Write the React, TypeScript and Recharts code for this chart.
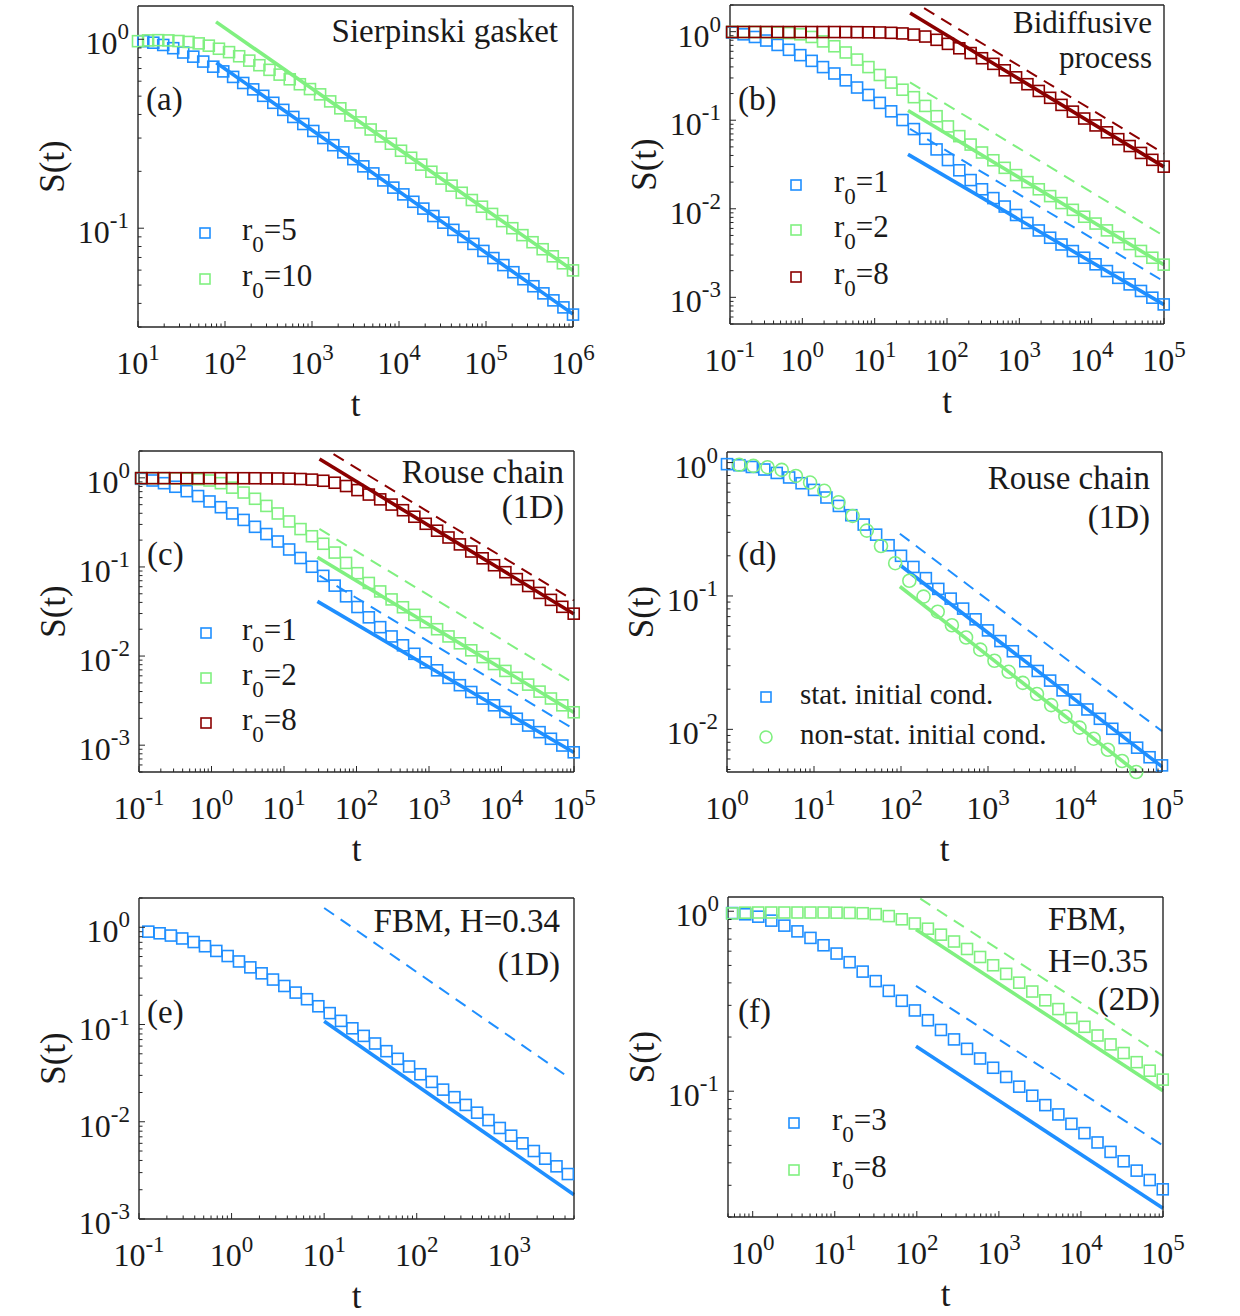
import React from 'react';
import { ComposedChart, Scatter, Line, XAxis, YAxis } from 'recharts';

const BLUE = '#1f8fff';
const GREEN = '#80f080';
const RED = '#8b0000';
const AX = '#262626';
const INK = '#1a1a1a';
const FONT = "'Liberation Serif', 'Times New Roman', Times, serif";

// ---------------- (a) Sierpinski gasket ----------------
const tA5 = [11.5, 15.0, 19.5, 25.4, 33.1, 43.2, 56.2, 73.3, 95.5, 124, 162, 211, 275, 359, 468, 610, 794, 1035, 1349, 1758, 2291, 2985, 3890, 5070, 6607, 8610, 11220, 14620, 19050, 24830, 32360, 42170, 54950, 71610, 93330, 121600, 158500, 206500, 269200, 350800, 457100, 595700, 776200, 1000000];
const sA5 = [0.977, 0.959, 0.933, 0.897, 0.851, 0.809, 0.762, 0.716, 0.676, 0.632, 0.587, 0.543, 0.502, 0.461, 0.423, 0.388, 0.356, 0.327, 0.3, 0.275, 0.252, 0.232, 0.2125, 0.195, 0.179, 0.164, 0.151, 0.138, 0.127, 0.116, 0.107, 0.098, 0.09, 0.0826, 0.0758, 0.0695, 0.0638, 0.0585, 0.0537, 0.0493, 0.0452, 0.0415, 0.0381, 0.0349];
const tA10 = [10, 13.07, 17.09, 22.33, 29.18, 38.14, 49.85, 65.16, 85.17, 111.3, 145.5, 190.1, 248.5, 324.8, 424.6, 554.9, 725.3, 947.8, 1239, 1619, 2116, 2766, 3615, 4724, 6175, 8072, 10550, 13790, 18020, 23560, 30790, 40250, 52600, 68750, 89850, 117400, 153500, 200600, 262200, 342700, 447900, 585400, 765200, 1000000];
const sA10 = [0.977, 0.986, 0.989, 0.986, 0.979, 0.968, 0.951, 0.925, 0.891, 0.855, 0.813, 0.771, 0.729, 0.689, 0.65, 0.614, 0.578, 0.545, 0.511, 0.469, 0.431, 0.395, 0.363, 0.333, 0.306, 0.28, 0.257, 0.236, 0.217, 0.199, 0.183, 0.168, 0.154, 0.141, 0.13, 0.119, 0.109, 0.1, 0.0919, 0.0843, 0.0774, 0.071, 0.0652, 0.0598];
const fitA5T = [79.4, 1000000];
const fitA5S = [0.752, 0.0351];
const fitA10T = [78.9, 1000000];
const fitA10S = [1.236, 0.0598];

// ---------------- (b) Bidiffusive process / (c) Rouse chain 1D ----------------
const tB = [0.107, 0.154, 0.221, 0.317, 0.455, 0.653, 0.938, 1.346, 1.932, 2.773, 3.981, 5.715, 8.204, 11.78, 16.9, 24.27, 34.83, 50.0, 71.78, 103.0, 147.9, 212.3, 304.8, 437.5, 628.1, 901.6, 1294, 1858, 2667, 3828, 5495, 7889, 11320, 16260, 23330, 33500, 48080, 69020, 99080];
const sB1 = [0.975, 0.933, 0.871, 0.794, 0.708, 0.624, 0.543, 0.468, 0.398, 0.337, 0.282, 0.234, 0.193, 0.157, 0.126, 0.1005, 0.0794, 0.0617, 0.0468, 0.0355, 0.0272, 0.0211, 0.0166, 0.0132, 0.0106, 0.00851, 0.00692, 0.00569, 0.00471, 0.00395, 0.00333, 0.0028, 0.00236, 0.00198, 0.00166, 0.0014, 0.00118, 0.000991, 0.000832];
const sB2 = [0.993, 0.993, 0.991, 0.986, 0.977, 0.964, 0.933, 0.871, 0.776, 0.684, 0.582, 0.484, 0.398, 0.324, 0.266, 0.221, 0.182, 0.145, 0.111, 0.0851, 0.0661, 0.0531, 0.0432, 0.0353, 0.029, 0.024, 0.02, 0.0166, 0.0139, 0.0116, 0.00973, 0.00813, 0.00681, 0.0057, 0.00478, 0.00399, 0.00334, 0.0028, 0.00234];
const sB8 = [0.992, 0.991, 0.992, 0.991, 0.991, 0.99, 0.991, 0.99, 0.99, 0.99, 0.989, 0.986, 0.984, 0.979, 0.97, 0.955, 0.927, 0.881, 0.809, 0.728, 0.649, 0.573, 0.501, 0.433, 0.366, 0.305, 0.255, 0.214, 0.179, 0.149, 0.125, 0.1045, 0.0873, 0.073, 0.0611, 0.0511, 0.0427, 0.0357, 0.0299];
const fitB1T = [28.9, 100000];
const fitB1S = [0.0411, 0.000828];
const fitB1dT = [30.8, 100000];
const fitB1dS = [0.08, 0.00151];
const fitB2T = [28.9, 100000];
const fitB2S = [0.1285, 0.00233];
const fitB2dT = [30.8, 100000];
const fitB2dS = [0.267, 0.00493];
const fitB8T = [30.9, 100000];
const fitB8S = [1.624, 0.0297];
const fitB8dT = [48.2, 100000];
const fitB8dS = [1.84, 0.042];

// ---------------- (d) Rouse chain, initial conditions ----------------
const tD1 = [1.0, 1.389, 1.931, 2.683, 3.728, 5.179, 7.197, 10.0, 13.89, 19.31, 26.83, 37.28, 51.79, 71.97, 100, 138.9, 193.1, 268.3, 372.8, 517.9, 719.7, 1000, 1389, 1931, 2683, 3728, 5179, 7197, 10000, 13890, 19310, 26830, 37280, 51790, 71970, 100000];
const sD1 = [0.973, 0.955, 0.927, 0.887, 0.836, 0.773, 0.7, 0.624, 0.547, 0.473, 0.403, 0.343, 0.288, 0.24, 0.2, 0.165, 0.136, 0.113, 0.0955, 0.0804, 0.0668, 0.0552, 0.0459, 0.0385, 0.0324, 0.0274, 0.0232, 0.0196, 0.0167, 0.0141, 0.012, 0.0101, 0.00861, 0.00729, 0.00618, 0.00537];
const tD2 = [1.38, 2.009, 2.924, 4.256, 6.194, 9.016, 13.12, 19.1, 27.8, 40.46, 58.88, 85.7, 124.7, 181.6, 264.2, 384.6, 559.8, 814.7, 1186, 1726, 2512, 3656, 5321, 7745, 11270, 16410, 23880, 34750, 50580];
const sD2 = [0.962, 0.944, 0.923, 0.881, 0.794, 0.708, 0.614, 0.504, 0.398, 0.309, 0.237, 0.176, 0.13, 0.0989, 0.0762, 0.0603, 0.0488, 0.0396, 0.0327, 0.027, 0.0223, 0.0184, 0.0152, 0.0125, 0.0103, 0.00851, 0.00703, 0.00579, 0.00479];
const fitD1T = [97.1, 100000];
const fitD1S = [0.1706, 0.00525];
const fitD1dT = [97.1, 100000];
const fitD1dS = [0.293, 0.0097];
const fitD2T = [97.1, 50600];
const fitD2S = [0.1178, 0.00479];

// ---------------- (e) FBM H=0.34 (1D) ----------------
const tE = [0.126, 0.167, 0.221, 0.293, 0.389, 0.516, 0.684, 0.907, 1.202, 1.594, 2.113, 2.802, 3.715, 4.926, 6.531, 8.66, 11.48, 15.22, 20.18, 26.76, 35.48, 47.04, 62.37, 82.7, 109.6, 145.4, 192.8, 255.6, 338.8, 449.3, 595.7, 789.9, 1047, 1388, 1841, 2441, 3236, 4291];
const sE = [0.902, 0.867, 0.822, 0.767, 0.705, 0.638, 0.571, 0.506, 0.445, 0.387, 0.336, 0.29, 0.249, 0.213, 0.182, 0.154, 0.131, 0.109, 0.0914, 0.0764, 0.0638, 0.0532, 0.0444, 0.037, 0.0308, 0.0257, 0.0214, 0.0179, 0.0149, 0.0124, 0.0104, 0.00863, 0.00719, 0.006, 0.005, 0.00417, 0.00348, 0.0029];
const fitET = [10, 5000];
const fitES = [0.108, 0.00178];
const fitEdT = [10, 4200];
const fitEdS = [1.58, 0.0294];

// ---------------- (f) FBM H=0.35 (2D) ----------------
const tF = [0.562, 0.811, 1.169, 1.687, 2.432, 3.508, 5.058, 7.295, 10.52, 15.17, 21.88, 31.55, 45.5, 65.61, 94.62, 136.5, 196.8, 283.8, 409.3, 590.2, 851.1, 1227, 1770, 2553, 3681, 5309, 7656, 11040, 15920, 22960, 33110, 47750, 68870, 99310];
const sF3 = [0.977, 0.962, 0.933, 0.887, 0.832, 0.773, 0.711, 0.647, 0.582, 0.521, 0.462, 0.409, 0.361, 0.318, 0.281, 0.248, 0.219, 0.194, 0.172, 0.152, 0.135, 0.12, 0.106, 0.0944, 0.0837, 0.0743, 0.0659, 0.0585, 0.0519, 0.046, 0.0408, 0.0362, 0.0321, 0.0285];
const sF8 = [0.973, 0.982, 0.984, 0.984, 0.984, 0.984, 0.984, 0.984, 0.982, 0.979, 0.975, 0.964, 0.94, 0.902, 0.855, 0.8, 0.741, 0.679, 0.617, 0.557, 0.501, 0.449, 0.401, 0.358, 0.32, 0.286, 0.255, 0.228, 0.204, 0.182, 0.163, 0.145, 0.13, 0.116];
const fitF3T = [97.7, 100000];
const fitF3S = [0.178, 0.0224];
const fitF3dT = [97.7, 100000];
const fitF3dS = [0.385, 0.0499];
const fitF8T = [97.7, 100000];
const fitF8S = [0.792, 0.1005];
const fitF8dT = [110, 100000];
const fitF8dS = [1.175, 0.157];

// ---------------- axis tick labels (decades) ----------------
const xMajA = [1e1, 1e2, 1e3, 1e4, 1e5, 1e6];
const yMajA = [0.1, 1];
const xMajB = [0.1, 1, 10, 100, 1e3, 1e4, 1e5];
const yMajB = [0.001, 0.01, 0.1, 1];
const xMajD = [1, 10, 100, 1e3, 1e4, 1e5];
const yMajD = [0.01, 0.1, 1];
const xMajE = [0.1, 1, 10, 100, 1000];
const yMajE = [0.001, 0.01, 0.1, 1];
const xMajF = [1, 10, 100, 1e3, 1e4, 1e5];
const yMajF = [0.1, 1];

// ---------------- helpers ----------------
type Pt = { t: number; s: number };
const zip = (t: number[], s: number[]): Pt[] => t.map((v, i) => ({ t: v, s: s[i] }));

function logTicks(lo: number, hi: number): number[] {
  const out: number[] = [];
  for (let e = Math.floor(Math.log10(lo)) - 1; e <= Math.ceil(Math.log10(hi)); e++) {
    for (let m = 1; m <= 9; m++) {
      const v = parseFloat((m * Math.pow(10, e)).toPrecision(6));
      if (v >= lo * 0.9999 && v <= hi * 1.0001) out.push(v);
    }
  }
  return out;
}
const inList = (v: number, list: number[]) => list.some((m) => Math.abs(m - v) / m < 1e-6);

type Side = 'bottom' | 'top' | 'left' | 'right';
const makeTick = (side: Side, majors: number[]) => (p: any) => {
  const { x, y, payload } = p;
  const v = payload.value as number;
  const maj = inList(v, majors);
  const L = maj ? 6 : 3.5;
  let x2 = x;
  let y2 = y;
  if (side === 'bottom') y2 = y - L;
  if (side === 'top') y2 = y + L;
  if (side === 'left') x2 = x + L;
  if (side === 'right') x2 = x - L;
  const exp = Math.round(Math.log10(v));
  let label: React.ReactNode = null;
  if (maj && side === 'bottom') {
    label = (
      <text x={x} y={y + 47} textAnchor="middle" fontFamily={FONT} fontSize={32} fill={INK}>
        10<tspan dy={-14} fontSize={23}>{exp}</tspan>
      </text>
    );
  } else if (maj && side === 'left') {
    label = (
      <text x={x - 9} y={y + 15} textAnchor="end" fontFamily={FONT} fontSize={32} fill={INK}>
        10<tspan dy={-15} fontSize={23}>{exp}</tspan>
      </text>
    );
  }
  return (
    <g>
      <line x1={x} y1={y} x2={x2} y2={y2} stroke={AX} strokeWidth={1} />
      {label}
    </g>
  );
};

const markerShape = (color: string, shape: 'square' | 'circle') => (p: any) =>
  shape === 'square' ? (
    <rect x={p.cx - 5.5} y={p.cy - 5.5} width={11} height={11} fill="none" stroke={color} strokeWidth={1.6} />
  ) : (
    <circle cx={p.cx} cy={p.cy} r={6.5} fill="none" stroke={color} strokeWidth={1.6} />
  );

interface SeriesDef { name: string; t: number[]; s: number[]; color: string; shape: 'square' | 'circle' }
interface FitDef { t: number[]; s: number[]; color: string; dashed?: boolean }
interface LegendDef { mx: number; tx: number; rows: number[]; fontSize: number; items: { color: string; shape: 'square' | 'circle'; label: React.ReactNode }[] }
interface PanelDef {
  left: number;
  top: number;
  box: { x: number; y: number; w: number; h: number };
  xDomain: [number, number];
  yDomain: [number, number];
  xMajor: number[];
  yMajor: number[];
  series: SeriesDef[];
  fits: FitDef[];
  legend?: LegendDef;
  notes: React.ReactNode;
}

const W = 620;
const H = 436;
const axisLine = { stroke: AX, strokeWidth: 1.4 };

const R0 = (v: string) => (
  <>
    r<tspan dy={12} fontSize={23}>0</tspan>
    <tspan dy={-12}>={v}</tspan>
  </>
);

const Note = ({ x, y, children, anchor = 'start', size = 33 }: any) => (
  <text x={x} y={y} textAnchor={anchor} fontFamily={FONT} fontSize={size} fill={INK}>
    {children}
  </text>
);

function Panel(d: PanelDef) {
  const { box } = d;
  const xt = logTicks(d.xDomain[0], d.xDomain[1]);
  const yt = logTicks(d.yDomain[0], d.yDomain[1]);
  const common = { type: 'number' as const, scale: 'log' as const, interval: 0 as const, tickLine: false, axisLine };
  return (
    <div style={{ position: 'absolute', left: d.left, top: d.top, width: W, height: H }}>
      <ComposedChart
        width={W}
        height={H}
        margin={{ top: box.y - 1, left: box.x - 1, right: W - box.x - box.w - 1, bottom: H - box.y - box.h - 1 }}
      >
        <XAxis {...common} xAxisId="b" orientation="bottom" dataKey="t" domain={d.xDomain} ticks={xt} height={1} tickSize={0} tickMargin={0} tick={makeTick('bottom', d.xMajor)} />
        <XAxis {...common} xAxisId="top" orientation="top" domain={d.xDomain} ticks={xt} height={1} tickSize={0} tickMargin={0} tick={makeTick('top', d.xMajor)} />
        <YAxis {...common} yAxisId="l" orientation="left" dataKey="s" domain={d.yDomain} ticks={yt} width={1} tickSize={0} tickMargin={0} tick={makeTick('left', d.yMajor)} />
        <YAxis {...common} yAxisId="r" orientation="right" domain={d.yDomain} ticks={yt} width={1} tickSize={0} tickMargin={0} tick={makeTick('right', d.yMajor)} />
        {d.series.map((s) => (
          <Scatter
            key={s.name}
            name={s.name}
            xAxisId="b"
            yAxisId="l"
            data={zip(s.t, s.s)}
            shape={markerShape(s.color, s.shape)}
            isAnimationActive={false}
          />
        ))}
        {d.fits.map((f, i) => (
          <Line
            key={'fit' + i}
            xAxisId="b"
            yAxisId="l"
            data={zip(f.t, f.s)}
            dataKey="s"
            type="linear"
            stroke={f.color}
            strokeWidth={f.dashed ? 2 : 3.6}
            strokeDasharray={f.dashed ? '12 8' : undefined}
            dot={false}
            activeDot={false}
            isAnimationActive={false}
          />
        ))}
      </ComposedChart>
      <svg width={W} height={H} style={{ position: 'absolute', left: 0, top: 0, pointerEvents: 'none' }}>
        <text
          transform={`translate(${box.x - 86},${box.y + box.h / 2}) rotate(-90)`}
          y={12}
          textAnchor="middle"
          fontFamily={FONT}
          fontSize={35}
          fill={INK}
        >
          S(t)
        </text>
        <text x={box.x + box.w / 2} y={box.y + box.h + 89} textAnchor="middle" fontFamily={FONT} fontSize={35} fill={INK}>
          t
        </text>
        {d.legend &&
          d.legend.items.map((it, i) => {
            const cy = d.legend!.rows[i];
            const mx = d.legend!.mx;
            return (
              <g key={i}>
                {it.shape === 'square' ? (
                  <rect x={mx - 5} y={cy - 5} width={10} height={10} fill="none" stroke={it.color} strokeWidth={1.6} />
                ) : (
                  <circle cx={mx} cy={cy} r={6} fill="none" stroke={it.color} strokeWidth={1.6} />
                )}
                <text x={d.legend!.tx} y={cy + 7} fontFamily={FONT} fontSize={d.legend!.fontSize} fill={INK}>
                  {it.label}
                </text>
              </g>
            );
          })}
        {d.notes}
      </svg>
    </div>
  );
}

const seriesB: SeriesDef[] = [
  { name: 'r0=1', t: tB, s: sB1, color: BLUE, shape: 'square' },
  { name: 'r0=2', t: tB, s: sB2, color: GREEN, shape: 'square' },
  { name: 'r0=8', t: tB, s: sB8, color: RED, shape: 'square' },
];
const fitsB: FitDef[] = [
  { t: fitB1T, s: fitB1S, color: BLUE },
  { t: fitB1dT, s: fitB1dS, color: BLUE, dashed: true },
  { t: fitB2T, s: fitB2S, color: GREEN },
  { t: fitB2dT, s: fitB2dS, color: GREEN, dashed: true },
  { t: fitB8T, s: fitB8S, color: RED },
  { t: fitB8dT, s: fitB8dS, color: RED, dashed: true },
];

export default function App() {
  return (
    <div style={{ position: 'absolute', left: 0, top: 0, width: 1240, height: 1316, background: '#fff', overflow: 'hidden' }}>
      <Panel
        left={0}
        top={0}
        box={{ x: 138, y: 6, w: 435, h: 321 }}
        xDomain={[10, 1e6]}
        yDomain={[0.03, 1.5]}
        xMajor={xMajA}
        yMajor={yMajA}
        series={[
          { name: 'r0=5', t: tA5, s: sA5, color: BLUE, shape: 'square' },
          { name: 'r0=10', t: tA10, s: sA10, color: GREEN, shape: 'square' },
        ]}
        fits={[
          { t: fitA5T, s: fitA5S, color: BLUE },
          { t: fitA10T, s: fitA10S, color: GREEN },
        ]}
        legend={{
          mx: 205,
          tx: 242,
          rows: [233, 279],
          fontSize: 31,
          items: [
            { color: BLUE, shape: 'square', label: R0('5') },
            { color: GREEN, shape: 'square', label: R0('10') },
          ],
        }}
        notes={
          <>
            <Note x={558} y={42} anchor="end">Sierpinski gasket</Note>
            <Note x={146} y={110}>(a)</Note>
          </>
        }
      />
      <Panel
        left={620}
        top={0}
        box={{ x: 110, y: 5, w: 434, h: 319 }}
        xDomain={[0.1, 1e5]}
        yDomain={[5e-4, 2]}
        xMajor={xMajB}
        yMajor={yMajB}
        series={seriesB}
        fits={fitsB}
        legend={{
          mx: 176,
          tx: 214,
          rows: [185, 230, 277],
          fontSize: 31,
          items: [
            { color: BLUE, shape: 'square', label: R0('1') },
            { color: GREEN, shape: 'square', label: R0('2') },
            { color: RED, shape: 'square', label: R0('8') },
          ],
        }}
        notes={
          <>
            <Note x={532} y={33} anchor="end" size={31}>Bidiffusive</Note>
            <Note x={532} y={68} anchor="end" size={31}>process</Note>
            <Note x={118} y={110}>(b)</Note>
          </>
        }
      />
      <Panel
        left={0}
        top={440}
        box={{ x: 139, y: 11, w: 435, h: 321 }}
        xDomain={[0.1, 1e5]}
        yDomain={[5e-4, 2]}
        xMajor={xMajB}
        yMajor={yMajB}
        series={seriesB}
        fits={fitsB}
        legend={{
          mx: 206,
          tx: 242,
          rows: [193, 238, 283],
          fontSize: 31,
          items: [
            { color: BLUE, shape: 'square', label: R0('1') },
            { color: GREEN, shape: 'square', label: R0('2') },
            { color: RED, shape: 'square', label: R0('8') },
          ],
        }}
        notes={
          <>
            <Note x={564} y={43} anchor="end">Rouse chain</Note>
            <Note x={564} y={78} anchor="end">(1D)</Note>
            <Note x={147} y={125}>(c)</Note>
          </>
        }
      />
      <Panel
        left={620}
        top={440}
        box={{ x: 107, y: 12, w: 435, h: 320 }}
        xDomain={[1, 1e5]}
        yDomain={[0.005, 1.2]}
        xMajor={xMajD}
        yMajor={yMajD}
        series={[
          { name: 'stat. initial cond.', t: tD1, s: sD1, color: BLUE, shape: 'square' },
          { name: 'non-stat. initial cond.', t: tD2, s: sD2, color: GREEN, shape: 'circle' },
        ]}
        fits={[
          { t: fitD1T, s: fitD1S, color: BLUE },
          { t: fitD1dT, s: fitD1dS, color: BLUE, dashed: true },
          { t: fitD2T, s: fitD2S, color: GREEN },
        ]}
        legend={{
          mx: 146,
          tx: 180,
          rows: [257, 297],
          fontSize: 29,
          items: [
            { color: BLUE, shape: 'square', label: 'stat. initial cond.' },
            { color: GREEN, shape: 'circle', label: 'non-stat. initial cond.' },
          ],
        }}
        notes={
          <>
            <Note x={530} y={49} anchor="end">Rouse chain</Note>
            <Note x={530} y={88} anchor="end">(1D)</Note>
            <Note x={118} y={125}>(d)</Note>
          </>
        }
      />
      <Panel
        left={0}
        top={880}
        box={{ x: 139, y: 18, w: 435, h: 321 }}
        xDomain={[0.1, 5000]}
        yDomain={[0.001, 2]}
        xMajor={xMajE}
        yMajor={yMajE}
        series={[{ name: 'FBM H=0.34', t: tE, s: sE, color: BLUE, shape: 'square' }]}
        fits={[
          { t: fitET, s: fitES, color: BLUE },
          { t: fitEdT, s: fitEdS, color: BLUE, dashed: true },
        ]}
        notes={
          <>
            <Note x={560} y={52} anchor="end">FBM, H=0.34</Note>
            <Note x={560} y={95} anchor="end">(1D)</Note>
            <Note x={147} y={143}>(e)</Note>
          </>
        }
      />
      <Panel
        left={620}
        top={880}
        box={{ x: 108, y: 17, w: 435, h: 320 }}
        xDomain={[0.5, 1e5]}
        yDomain={[0.02, 1.2]}
        xMajor={xMajF}
        yMajor={yMajF}
        series={[
          { name: 'r0=3', t: tF, s: sF3, color: BLUE, shape: 'square' },
          { name: 'r0=8', t: tF, s: sF8, color: GREEN, shape: 'square' },
        ]}
        fits={[
          { t: fitF3T, s: fitF3S, color: BLUE },
          { t: fitF3dT, s: fitF3dS, color: BLUE, dashed: true },
          { t: fitF8T, s: fitF8S, color: GREEN },
          { t: fitF8dT, s: fitF8dS, color: GREEN, dashed: true },
        ]}
        legend={{
          mx: 174,
          tx: 212,
          rows: [243, 290],
          fontSize: 31,
          items: [
            { color: BLUE, shape: 'square', label: R0('3') },
            { color: GREEN, shape: 'square', label: R0('8') },
          ],
        }}
        notes={
          <>
            <Note x={428} y={50}>FBM,</Note>
            <Note x={428} y={92}>H=0.35</Note>
            <Note x={540} y={130} anchor="end">(2D)</Note>
            <Note x={118} y={142}>(f)</Note>
          </>
        }
      />
    </div>
  );
}
